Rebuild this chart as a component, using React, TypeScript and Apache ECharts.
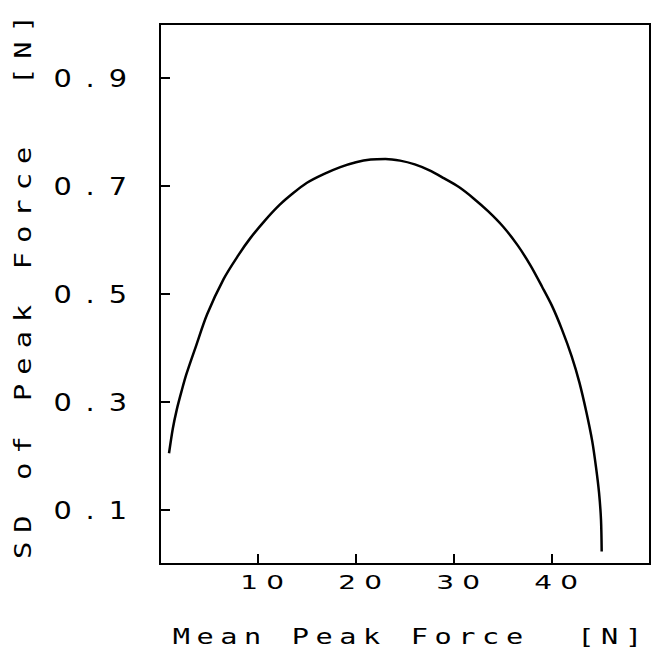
import React, { useEffect, useRef } from "react";
import * as echarts from "echarts";

// Mean peak force [N] along the curve
const meanForce = [
  0.92, 1.3, 1.7, 2.2, 2.7, 3.7, 4.8, 6.5, 8.0, 9.2, 10.7, 12.2, 13.6, 15.0,
  16.7, 18.4, 20.0, 21.5, 23.0, 24.5, 26.0, 27.5, 29.0, 30.5, 32.0, 33.5, 35.0,
  36.5, 37.8, 39.0, 40.0, 41.0, 42.0, 42.8, 43.5, 44.1, 44.5, 44.8, 45.0, 45.07,
];
// Standard deviation of peak force [N] at each mean value
const sdForce = [
  0.205, 0.25, 0.285, 0.32, 0.352, 0.405, 0.462, 0.528, 0.572, 0.603, 0.636,
  0.665, 0.687, 0.706, 0.722, 0.735, 0.744, 0.749, 0.75, 0.747, 0.74, 0.729,
  0.714, 0.698, 0.677, 0.653, 0.625, 0.59, 0.553, 0.513, 0.478, 0.435, 0.385,
  0.336, 0.282, 0.228, 0.178, 0.132, 0.082, 0.023,
];

const xTickValues = [10, 20, 30, 40];
const yTickValues = [0.1, 0.3, 0.5, 0.7, 0.9];
const xTitle = "Mean Peak Force  [N]";
const yTitle = "SD of Peak Force  [N]";

const yLabelText = (v: number) => v.toFixed(1);
const xLabelText = (v: number) => String(v);

// Plotter-style lettering: glyphs are stretched horizontally (k) about their
// anchor and tracked out (ls, in local units); dx cancels the trailing gap
// that letter-spacing leaves after the last glyph.
type Lettering = { k: number; ls: number; dx: number };

function applyLettering(root: HTMLElement) {
  const yLabels = yTickValues.map(yLabelText);
  const xLabels = xTickValues.map(xLabelText);
  root.querySelectorAll("text").forEach((t) => {
    if (t.getAttribute("data-lettered")) return;
    const s = t.textContent || "";
    let spec: Lettering | null = null;
    if (yLabels.includes(s)) spec = { k: 1.2, ls: 11.6, dx: 11.6 };
    else if (xLabels.includes(s)) spec = { k: 1.4, ls: 5.85, dx: 5.8 };
    else if (s === xTitle) spec = { k: 1.3, ls: 5.07, dx: 4.4 };
    else if (s === yTitle) spec = { k: 1.25, ls: 7.23, dx: 9.2 };
    if (!spec) return;
    const x = parseFloat(t.getAttribute("x") || "0") || 0;
    const y = parseFloat(t.getAttribute("y") || "0") || 0;
    const tf = t.getAttribute("transform") || "";
    t.setAttribute(
      "transform",
      `${tf} translate(${x} ${y}) scale(${spec.k} 1) translate(${-x} ${-y})`.trim()
    );
    const st = (t as SVGTextElement).style;
    st.letterSpacing = spec.ls + "px";
    st.whiteSpace = "pre";
    t.setAttribute("dx", String(spec.dx));
    t.setAttribute("data-lettered", "1");
  });
}

export default function App() {
  const ref = useRef<HTMLDivElement>(null);

  useEffect(() => {
    const el = ref.current;
    if (!el) return;
    const chart = echarts.init(el, null, { renderer: "svg" });
    const points = meanForce.map((x, i) => [x, sdForce[i]]);
    const tickFont = "DejaVu Sans";
    const titleFont = "DejaVu Sans Mono";

    chart.on("finished", () => applyLettering(el));

    chart.setOption({
      animation: false,
      backgroundColor: "#ffffff",
      grid: {
        left: 160,
        right: 2,
        top: 24,
        bottom: 85,
        show: true,
        borderColor: "#000",
        borderWidth: 2,
        outerBoundsMode: "none",
      },
      xAxis: {
        type: "value",
        min: 0,
        max: 50,
        interval: 10,
        name: xTitle,
        nameLocation: "middle",
        nameGap: 61,
        nameTextStyle: { fontFamily: titleFont, fontSize: 22, color: "#000" },
        axisLine: { show: true, lineStyle: { color: "#000", width: 2 } },
        axisTick: {
          show: true,
          inside: true,
          length: 10,
          customValues: xTickValues,
          lineStyle: { color: "#000", width: 2 },
        },
        axisLabel: {
          customValues: xTickValues,
          formatter: xLabelText,
          fontFamily: tickFont,
          fontSize: 20,
          color: "#000",
          margin: 8,
        },
        splitLine: { show: false },
      },
      yAxis: {
        type: "value",
        min: 0,
        max: 1,
        interval: 0.1,
        name: yTitle,
        nameLocation: "middle",
        nameGap: 125,
        nameTextStyle: { fontFamily: titleFont, fontSize: 23, color: "#000" },
        axisLine: { show: true, lineStyle: { color: "#000", width: 2 } },
        axisTick: {
          show: true,
          inside: true,
          length: 10,
          customValues: yTickValues,
          lineStyle: { color: "#000", width: 2 },
        },
        axisLabel: {
          customValues: yTickValues,
          formatter: yLabelText,
          fontFamily: tickFont,
          fontSize: 24,
          color: "#000",
          margin: 33,
        },
        splitLine: { show: false },
      },
      series: [
        {
          type: "line",
          data: points,
          showSymbol: false,
          smooth: 0.3,
          lineStyle: { color: "#000", width: 2.5 },
        },
      ],
    });
    applyLettering(el);

    return () => {
      chart.dispose();
    };
  }, []);

  return (
    <div
      ref={ref}
      style={{ position: "fixed", left: 0, top: 0, width: 652, height: 649, background: "#fff" }}
    />
  );
}
